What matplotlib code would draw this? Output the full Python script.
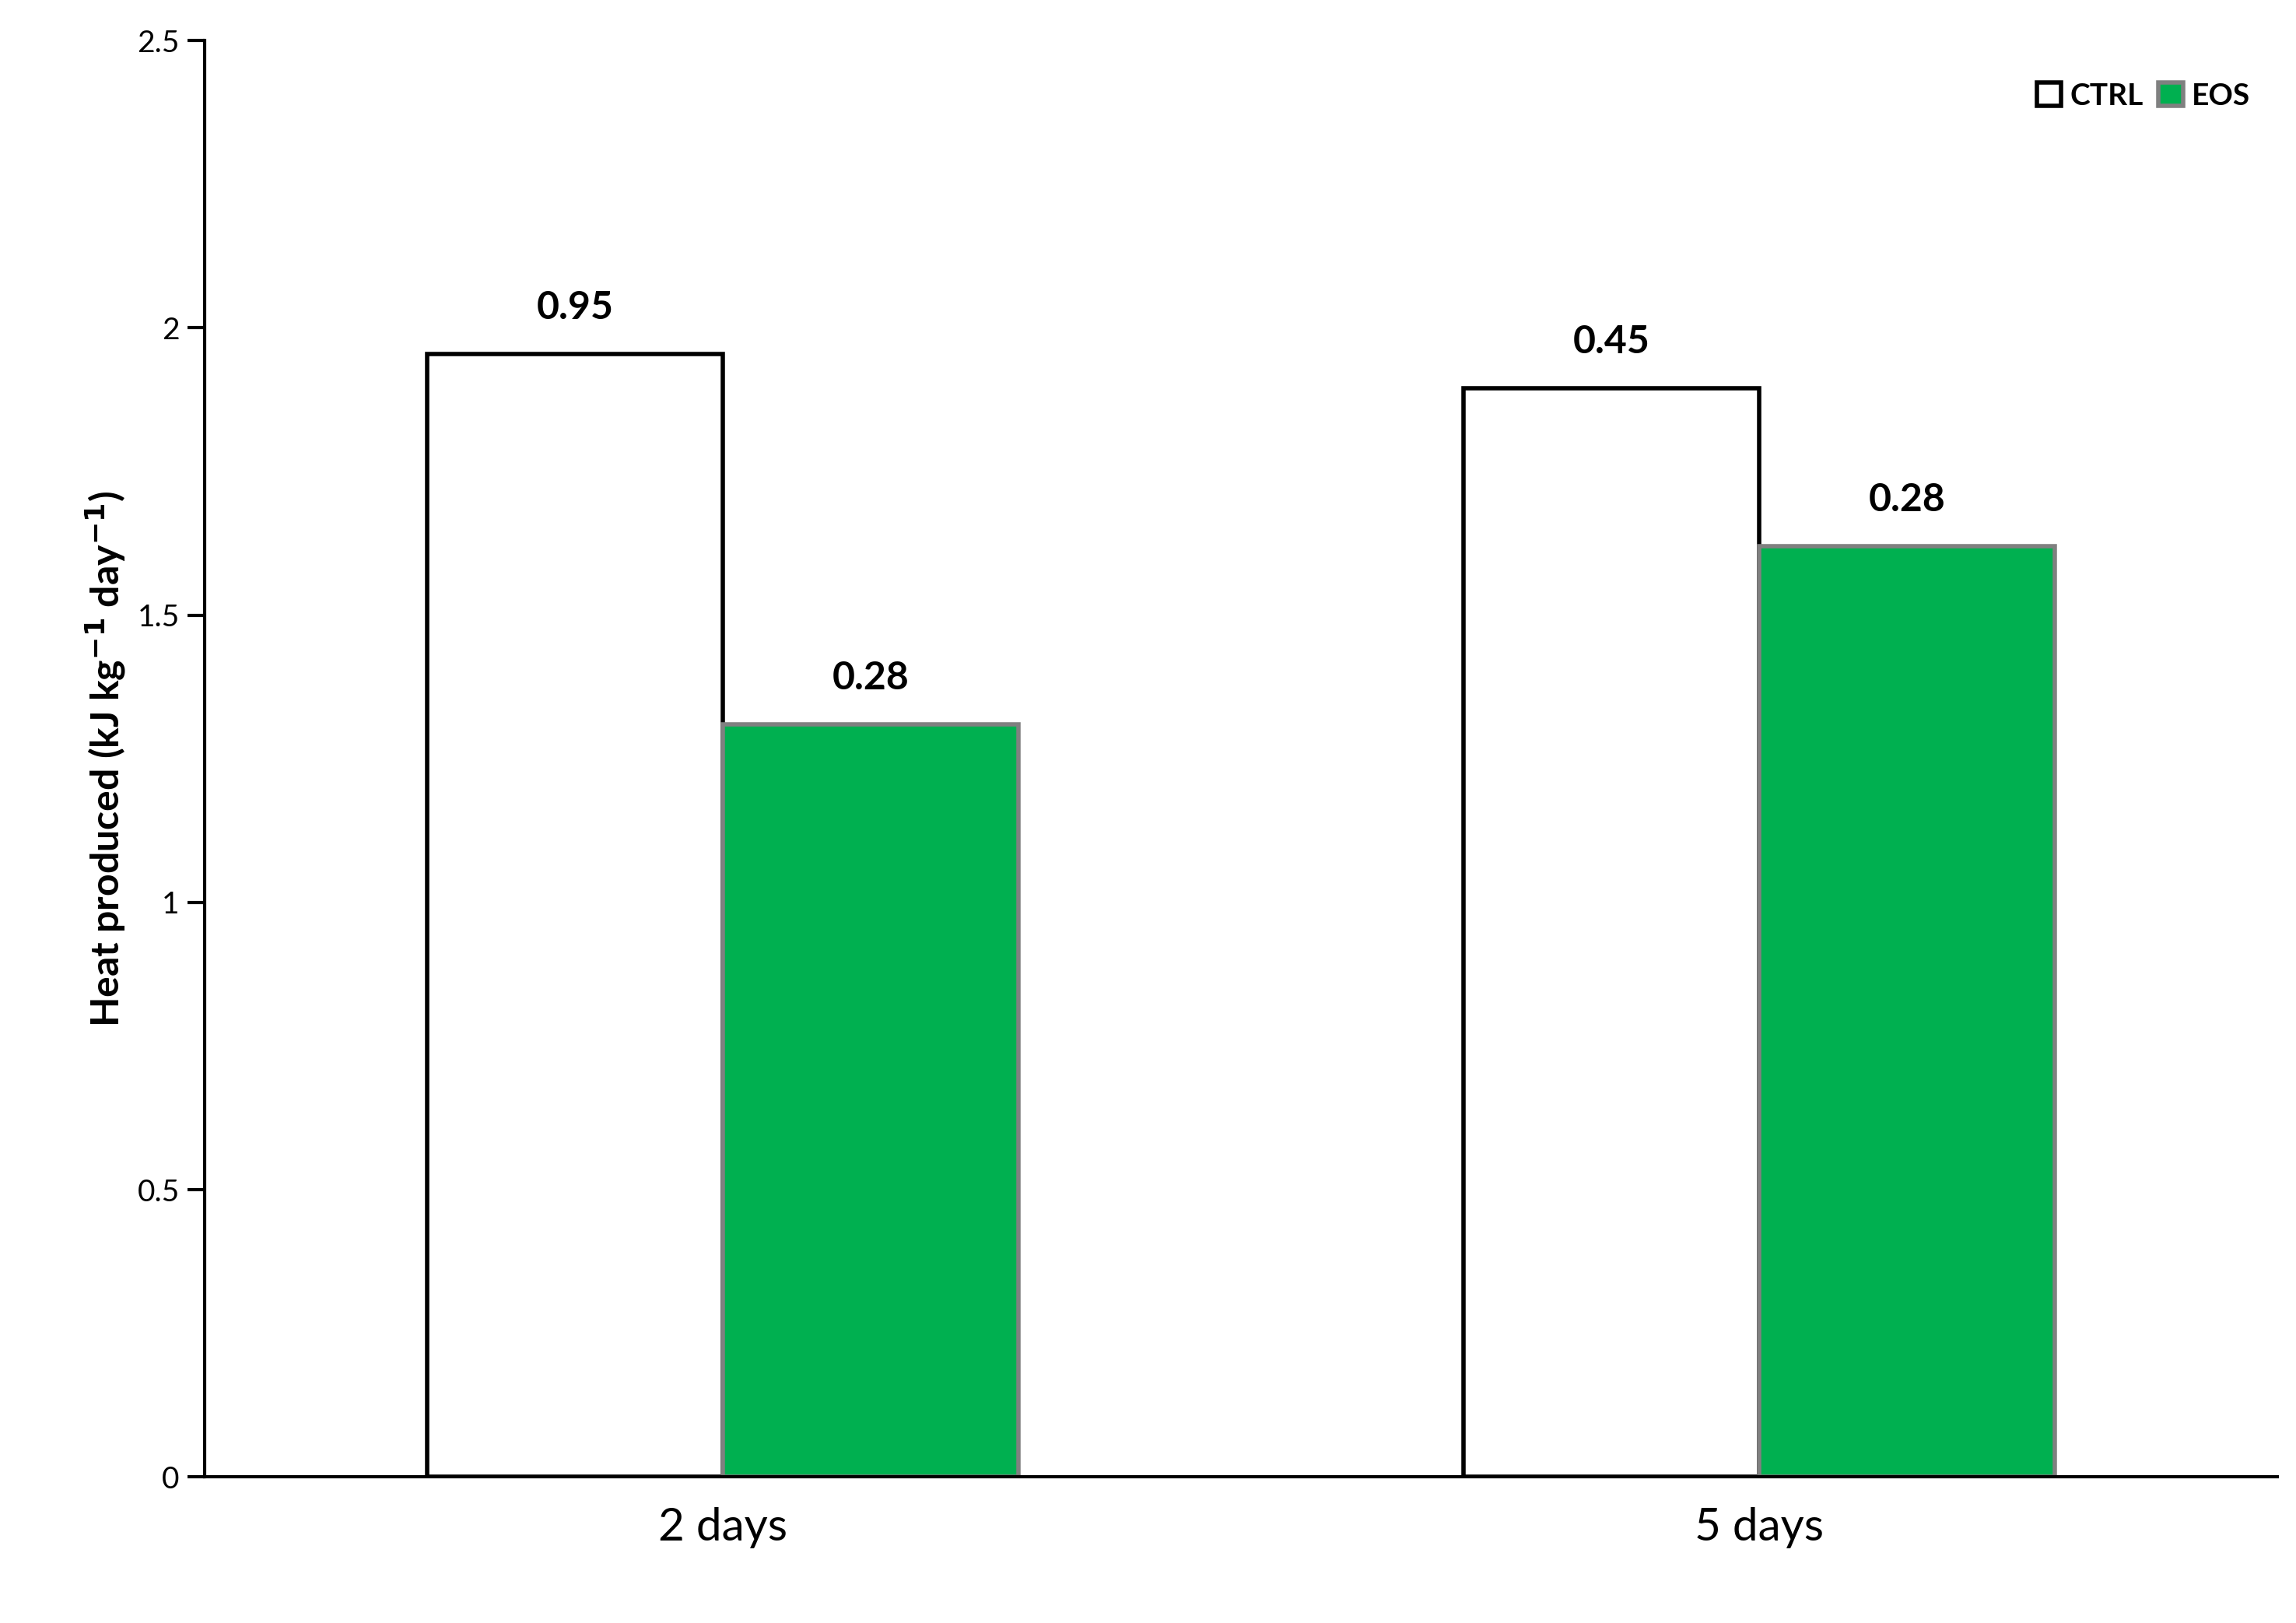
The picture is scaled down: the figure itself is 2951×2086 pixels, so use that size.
import numpy as np
import matplotlib
matplotlib.use('Agg')
import matplotlib.pyplot as plt

plt.rcParams['font.family'] = ['Lato', 'DejaVu Sans']

categories = ["2 days", "5 days"]
ctrl_vals = [1.955, 1.895]
eos_vals = [1.31, 1.62]
ctrl_labels = ["0.95", "0.45"]
eos_labels = ["0.28", "0.28"]

fig = plt.figure(figsize=(14.755, 10.43), dpi=200)
ax = fig.add_axes([0.089, 0.09, 0.903, 0.885])

x = np.arange(len(categories))
w = 0.285
b1 = ax.bar(x - w / 2, ctrl_vals, w, color='white', edgecolor='black', linewidth=2, label='CTRL')
b2 = ax.bar(x + w / 2, eos_vals, w, color='#00B050', edgecolor='#808080', linewidth=2, label='EOS')

for rect, lab in zip(b1, ctrl_labels):
    ax.text(rect.get_x() + rect.get_width() / 2, rect.get_height() + 0.05, lab,
            ha='center', va='bottom', fontsize=18, fontweight='bold')
for rect, lab in zip(b2, eos_labels):
    ax.text(rect.get_x() + rect.get_width() / 2, rect.get_height() + 0.05, lab,
            ha='center', va='bottom', fontsize=18, fontweight='bold')

ax.set_xlim(-0.5, 1.5)
ax.set_ylim(0, 2.5)
ax.set_yticks([0, 0.5, 1, 1.5, 2, 2.5])
ax.set_yticklabels(['0', '0.5', '1', '1.5', '2', '2.5'])
ax.set_xticks(x)
ax.set_xticklabels(categories, fontsize=21)
ax.tick_params(axis='x', length=0, pad=14)
ax.tick_params(axis='y', labelsize=14, length=8, width=1.5)
ax.spines['top'].set_visible(False)
ax.spines['right'].set_visible(False)
ax.spines['left'].set_linewidth(1.5)
ax.spines['bottom'].set_linewidth(1.5)
ax.set_ylabel(r'Heat produced (kJ kg$^{\mathbf{-1}}$ day$^{\mathbf{-1}}$)', fontsize=18, fontweight='bold')

leg = ax.legend(loc='upper right', ncol=2, frameon=False, fontsize=14, handlelength=0.8,
                handleheight=0.8, columnspacing=0.5, handletextpad=0.3,
                prop={'weight': 'bold', 'size': 14}, bbox_to_anchor=(1.0, 0.99))

fig.savefig('out.png', dpi=200)
